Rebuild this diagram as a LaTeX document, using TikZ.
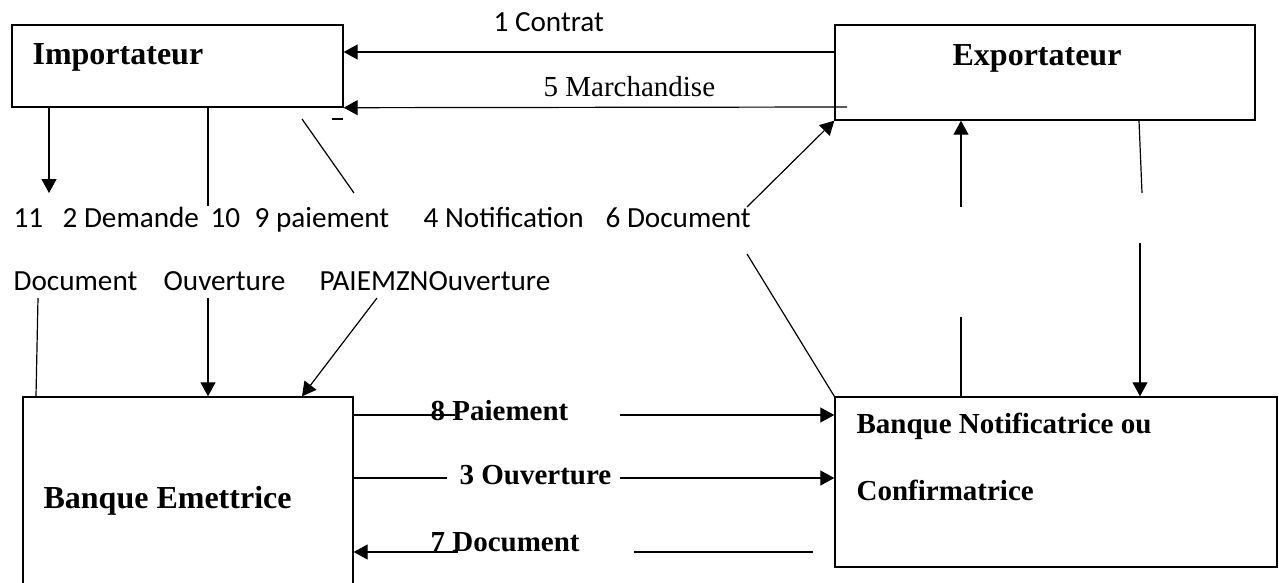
\documentclass[tikz,border=0pt]{standalone}
\usepackage{fontspec}
\setmainfont{Liberation Serif}
\newfontfamily\calibri{Carlito}
\usetikzlibrary{arrows.meta}
\begin{document}
\begin{tikzpicture}[x=0.5pt,y=-0.5pt,line width=0.6pt,
  boite/.style={draw,line width=0.7pt,inner sep=0pt},
  titre/.style={anchor=base west,inner sep=0pt,font=\fontsize{16}{19}\selectfont\bfseries},
  gras/.style={anchor=base west,inner sep=0pt,font=\fontsize{14.5}{17}\selectfont\bfseries},
  etiq/.style={anchor=base west,inner sep=0pt,font=\fontsize{14.6}{17}\selectfont\calibri},
  fl/.style={-{Triangle[length=7pt,width=7.5pt]}}]
	\useasboundingbox (0,0) rectangle (1279,583);
	\clip (0,0) rectangle (1279,583);
	\node[boite,minimum width=165.5pt,minimum height=41pt] (imp) at (177.5,66) {};
	\node[boite,minimum width=210pt,minimum height=47.5pt] (exp) at (1045,72.5) {};
	\node[boite,minimum width=165pt,minimum height=101.5pt] (bem) at (188,498.5) {};
	\node[boite,minimum width=221pt,minimum height=85pt] (bnc) at (1056,482) {};
	\node[titre] (impt) at (32,65) {Importateur};
	\node[titre] (expt) at (952,66) {Exportateur};
	\node[titre] (bemt) at (43,508) {Banque Emettrice};
	\node[gras] (bnct) at (856,433) {Banque Notificatrice ou};
	\node[gras] (bncc) at (856,500) {Confirmatrice};
	\node[etiq] (contrat) at (493,32) {1 Contrat};
	\node[anchor=base west,inner sep=0pt,font=\fontsize{14.5}{17}\selectfont] (march) at (543,97) {5 Marchandise};
	\node[etiq] (onze) at (13,227) {11};
	\node[etiq] (dem) at (62,227) {2 Demande};
	\node[etiq] (dix) at (210,227) {10};
	\node[etiq] (paie) at (254,227) {9 paiement};
	\node[etiq] (notif) at (423,227) {4 Notification};
	\node[etiq] (doc6) at (605,227) {6 Document};
	\node[etiq] (doc) at (13,290) {Document};
	\node[etiq] (ouv) at (163,290) {Ouverture};
	\node[etiq] (pzn) at (319,290) {PAIEMZNOuverture};
	\node[gras] (paie8) at (430,420) {8 Paiement};
	\node[gras] (ouv3) at (459,484) {3 Ouverture};
	\node[gras] (doc7) at (430,551) {7 Document};
	\draw[fl] (exp.west |- 0,52) -- (imp.east |- 0,52);
	\coordinate (c5) at (847,107);
	\draw[fl] (c5) -- (imp.south east);
	\draw (332,119) -- (343,119);
	\draw[fl] (imp.south -| 49,0) -- (49,193);
	\draw (imp.south -| 208,0) -- (208,206);
	\draw (302,119) -- (354,193);
	\draw (38,298) -- (bem.north -| 36,0);
	\draw[fl] (208,298) -- (bem.north -| 208,0);
	\draw[fl] (377,298) -- (bem.north -| 302,0);
	\draw[fl] (747,207) -- (exp.south west);
	\draw (747,254) -- (bnc.north west);
	\draw[fl] (961,207) -- (exp.south -| 961,0);
	\draw (961,317) -- (bnc.north -| 961,0);
	\draw (exp.south -| 1139,0) -- (1142,193);
	\draw[fl] (1140,243) -- (bnc.north -| 1140,0);
	\draw (bem.east |- 0,415) -- (455,415);
	\draw[fl] (620,415) -- (bnc.west |- 0,415);
	\draw (bem.east |- 0,478) -- (447,478);
	\draw[fl] (620,478) -- (bnc.west |- 0,478);
	\draw[fl] (458,552) -- (bem.east |- 0,552);
	\draw (634,552) -- (813,552);
\end{tikzpicture}
\end{document}
